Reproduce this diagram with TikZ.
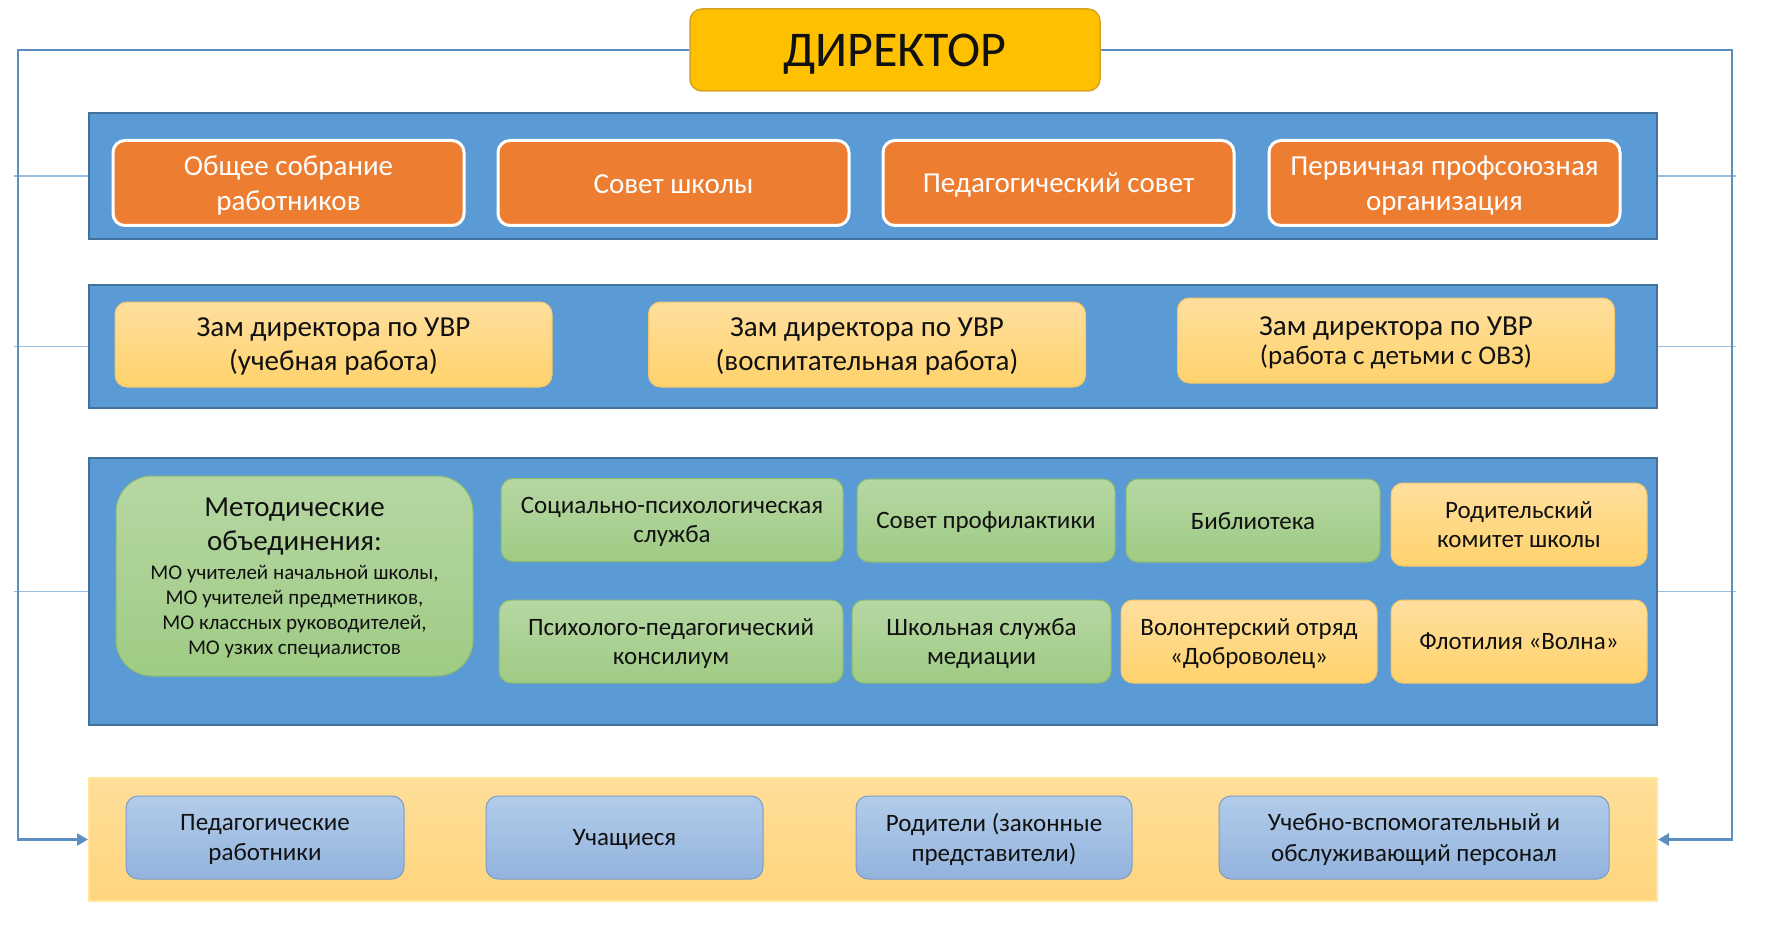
\documentclass[tikz,border=0pt]{standalone}
\usepackage{fontspec}
\setmainfont{Carlito}
\usetikzlibrary{arrows.meta}
\definecolor{bandblue}{HTML}{5B9BD5}
\definecolor{bandedge}{HTML}{41719C}
\definecolor{dirfill}{HTML}{FFC000}
\definecolor{diredge}{HTML}{D9A21B}
\definecolor{orng}{HTML}{ED7D31}
\definecolor{ltotop}{HTML}{FFDF9E}
\definecolor{ltobot}{HTML}{FFD26C}
\definecolor{ltoedge}{HTML}{F5C66A}
\definecolor{grtop}{HTML}{B6D7A3}
\definecolor{grbot}{HTML}{9FCB84}
\definecolor{gredge}{HTML}{8CBB6E}
\definecolor{bltop}{HTML}{B2CCE9}
\definecolor{blbot}{HTML}{93B3DE}
\definecolor{bledge}{HTML}{7A9CC6}
\definecolor{b4top}{HTML}{FFDE98}
\definecolor{b4bot}{HTML}{FFD57E}
\definecolor{b4edge}{HTML}{FFE699}
\definecolor{connc}{HTML}{5B8FC0}
\definecolor{thinc}{HTML}{9ABEDF}
\definecolor{txt}{HTML}{111111}
\begin{document}
\begin{tikzpicture}[x=1pt,y=-1pt,
  basebox/.style={rounded corners=12pt, inner sep=0pt, align=center, text=txt, text depth=0pt},
  band/.style={inner sep=0pt, minimum width=1568pt, fill=bandblue, draw=bandedge, line width=2pt},
  orangebox/.style={basebox, fill=orng, draw=white, line width=3pt, text=white,
     minimum width=351pt, minimum height=85pt, font=\fontsize{29}{35}\selectfont},
  zambox/.style={basebox, top color=ltotop, bottom color=ltobot, draw=ltoedge, line width=1pt,
     minimum width=437pt, minimum height=85pt, font=\fontsize{29}{34}\selectfont},
  greenbox/.style={basebox, top color=grtop, bottom color=grbot, draw=gredge, line width=1pt,
     minimum height=83pt, font=\fontsize{25}{29.5}\selectfont},
  lobox/.style={basebox, top color=ltotop, bottom color=ltobot, draw=ltoedge, line width=1pt,
     minimum height=83pt, font=\fontsize{25}{29.5}\selectfont},
  bluebox/.style={basebox, top color=bltop, bottom color=blbot, draw=bledge, line width=1pt,
     minimum height=83pt, font=\fontsize{25}{30.5}\selectfont},
  mainconn/.style={draw=connc, line width=2.5pt, -{Triangle[length=11pt,width=12pt]}},
  thinconn/.style={draw=thinc, line width=1.5pt}
]
\useasboundingbox (0,0) rectangle (1773,928);
\fill[white] (0,0) rectangle (1773,928);

% bands
\node[band, minimum height=126pt] (b1) at (873,176) {};
\node[band, minimum height=123pt] (b2) at (873,346.5) {};
\node[band, minimum height=267pt] (b3) at (873,591.5) {};
\node[inner sep=0pt, minimum width=1568pt, minimum height=123pt, top color=b4top, bottom color=b4bot, draw=b4edge, line width=2pt] (b4) at (873,839.5) {};

% director
\node[basebox, fill=dirfill, draw=diredge, line width=1.5pt, minimum width=410pt, minimum height=82pt,
  font=\fontsize{50}{56}\selectfont] (dir) at (895,50) {ДИРЕКТОР};

% band 1
\node[orangebox] (o1) at (288.5,183) {Общее собрание\\работников};
\node[orangebox, text height=22pt] (o2) at (673.5,183) {Совет школы};
\node[orangebox] (o3) at (1058.5,183) {Педагогический совет};
\node[orangebox] (o4) at (1444.5,183) {Первичная профсоюзная\\организация};

% band 2
\node[zambox] (z1) at (333.5,344.5) {Зам директора по УВР\\(учебная работа)};
\node[zambox] (z2) at (867,344.5) {Зам директора по УВР\\(воспитательная работа)};
\node[zambox] (z3) at (1396,340.5) {Зам директора по УВР\\[-5pt]{\fontsize{27}{30}\selectfont (работа с детьми с ОВЗ)}};

% band 3
\node[greenbox, rounded corners=36pt, minimum width=357pt, minimum height=200pt,
  font=\fontsize{21}{25}\selectfont] (mo) at (294.5,576)
  {{\fontsize{29}{34}\selectfont Методические}\\[9pt]{\fontsize{29}{34}\selectfont объединения:}\\[4pt]
   МО учителей начальной школы,\\
   МО учителей предметников,\\
   МО классных руководителей,\\
   МО узких специалистов};
\node[greenbox, minimum width=342pt] (sp) at (672,520) {Социально-психологическая\\служба};
\node[greenbox, minimum width=258pt] (prof) at (986,520.5) {Совет профилактики};
\node[greenbox, minimum width=254pt] (bib) at (1253,520.5) {Библиотека};
\node[lobox, minimum width=256pt] (rod) at (1519,524.5) {Родительский\\комитет школы};
\node[greenbox, minimum width=344pt] (ppk) at (671,641.5) {Психолого-педагогический\\консилиум};
\node[greenbox, minimum width=259pt] (med) at (981.5,641.5) {Школьная служба\\медиации};
\node[lobox, minimum width=256pt] (vol) at (1249,641.5) {Волонтерский отряд\\«Доброволец»};
\node[lobox, minimum width=256pt] (flo) at (1519,641.5) {Флотилия «Волна»};

% band 4
\node[bluebox, minimum width=278pt] (p1) at (265,837.5) {Педагогические\\работники};
\node[bluebox, minimum width=277pt] (p2) at (624.5,837.5) {Учащиеся};
\node[bluebox, minimum width=276pt] (p3) at (994,837.5) {Родители (законные\\представители)};
\node[bluebox, minimum width=390pt] (p4) at (1414,837.5) {Учебно-вспомогательный и\\обслуживающий персонал};

% connectors
\coordinate (lt) at (18,50);
\coordinate (lb) at (18,839.5);
\coordinate (rt) at (1732,50);
\coordinate (rb) at (1732,839.5);
\coordinate (l1) at (14,176);
\coordinate (l2) at (14,346.5);
\coordinate (l3) at (14,591.5);
\coordinate (r1) at (1736,176);
\coordinate (r2) at (1736,346.5);
\coordinate (r3) at (1736,591.5);
\draw[thinconn] (l1) -- (b1.west);
\draw[thinconn] (l2) -- (b2.west);
\draw[thinconn] (l3) -- (b3.west);
\draw[thinconn] (b1.east) -- (r1);
\draw[thinconn] (b2.east) -- (r2);
\draw[thinconn] (b3.east) -- (r3);
\draw[mainconn] (dir.west) -- (lt) -- (lb) -- (b4.west);
\draw[mainconn] (dir.east) -- (rt) -- (rb) -- (b4.east);
\end{tikzpicture}
\end{document}
